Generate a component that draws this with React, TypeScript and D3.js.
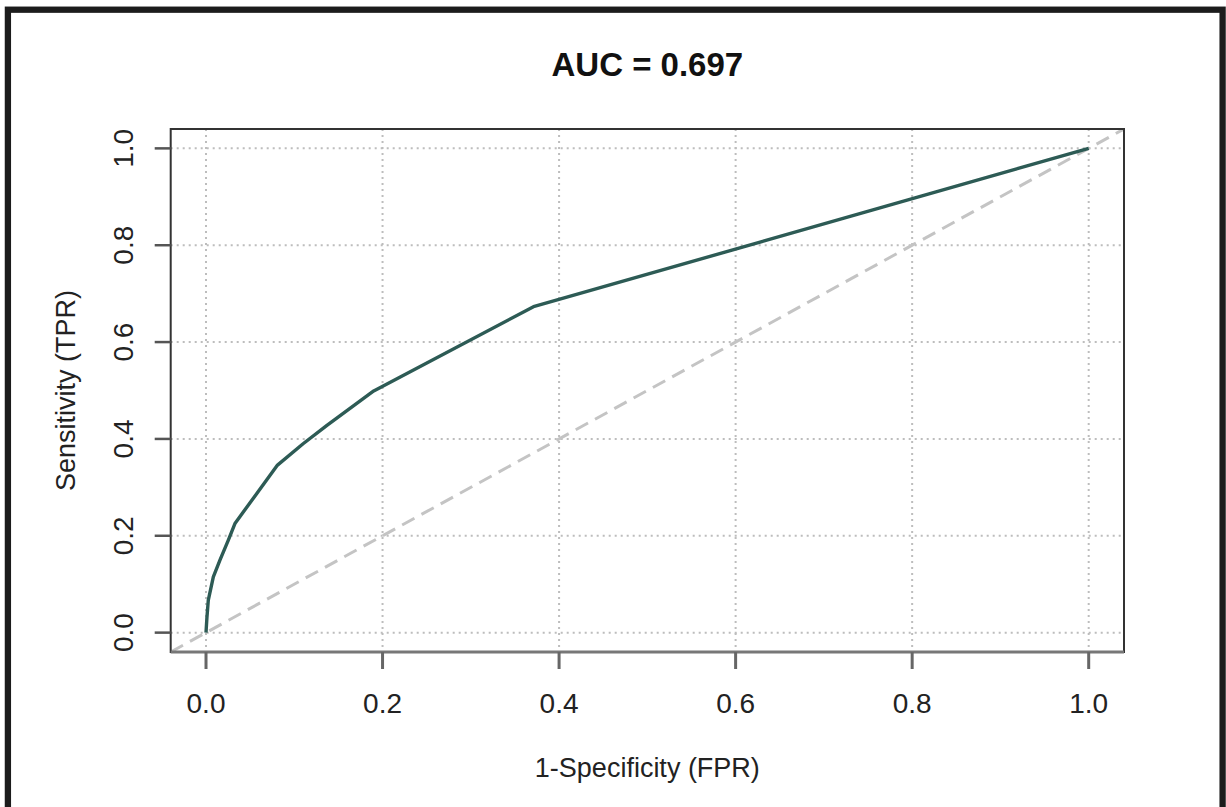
import React from "react";
import * as d3 from "d3";

const fpr = [0, 0.001, 0.0026, 0.0083, 0.0159, 0.0253, 0.033, 0.081, 0.11, 0.137, 0.19, 0.371, 1];
const tpr = [0, 0.03, 0.067, 0.115, 0.15, 0.191, 0.226, 0.346, 0.39, 0.428, 0.499, 0.673, 1];
const ticks = [0, 0.2, 0.4, 0.6, 0.8, 1.0];
const tickLabels = ["0.0", "0.2", "0.4", "0.6", "0.8", "1.0"];
const title = "AUC = 0.697";
const xLabel = "1-Specificity (FPR)";
const yLabel = "Sensitivity (TPR)";

const W = 1226;
const H = 807;
const FONT = "'Liberation Sans', Arial, Helvetica, sans-serif";

export default function App() {
  const x = d3.scaleLinear().domain([-0.04, 1.04]).range([170.7, 1124]);
  const y = d3.scaleLinear().domain([-0.04, 1.04]).range([652, 129]);
  const [x0, x1] = x.range();
  const [y0, y1] = y.range();
  const pts: [number, number][] = fpr.map((f, i) => [f, tpr[i]]);
  const line = d3
    .line<[number, number]>()
    .x((d) => x(d[0]))
    .y((d) => y(d[1]));
  const cx = (x0 + x1) / 2;
  const cy = (y0 + y1) / 2;

  return (
    <svg
      width={W}
      height={H}
      style={{ position: "absolute", left: 0, top: 0, background: "#fff" }}
      fontFamily={FONT}
    >
      <rect x={0} y={0} width={W} height={H} fill="#fff" />
      <rect x={7.9} y={9.7} width={1214.7} height={1000} fill="none" stroke="#1c1c1c" strokeWidth={6.3} />
      <defs>
        <clipPath id="plotclip">
          <rect x={x0} y={y1} width={x1 - x0} height={y0 - y1} />
        </clipPath>
      </defs>
      {/* grid */}
      <g stroke="#bdbdbd" strokeWidth={2} strokeDasharray="2,4">
        {ticks.map((t) => (
          <line key={"gx" + t} x1={x(t)} x2={x(t)} y1={y1} y2={y0} />
        ))}
        {ticks.map((t) => (
          <line key={"gy" + t} x1={x0} x2={x1} y1={y(t)} y2={y(t)} />
        ))}
      </g>
      {/* diagonal */}
      <g clipPath="url(#plotclip)">
        <line
          x1={x(-0.04)}
          y1={y(-0.04)}
          x2={x(1.04)}
          y2={y(1.04)}
          stroke="#c4c4c4"
          strokeWidth={3}
          strokeDasharray="14,8"
        />
        <path d={line(pts) || ""} fill="none" stroke="#2d5b55" strokeWidth={3.4} strokeLinejoin="round" />
      </g>
      {/* box */}
      <rect x={x0} y={y1} width={x1 - x0} height={y0 - y1} fill="none" stroke="#333" strokeWidth={2} />
      <line x1={x0} x2={x1} y1={y0} y2={y0} stroke="#777" strokeWidth={3} />
      {/* x ticks */}
      {ticks.map((t, i) => (
        <g key={"xt" + t}>
          <line x1={x(t)} x2={x(t)} y1={y0} y2={y0 + 17} stroke="#666" strokeWidth={3} />
          <text x={x(t)} y={713} textAnchor="middle" fontSize={28} fill="#222">
            {tickLabels[i]}
          </text>
        </g>
      ))}
      {/* y ticks */}
      {ticks.map((t, i) => (
        <g key={"yt" + t}>
          <line x1={x0 - 16} x2={x0} y1={y(t)} y2={y(t)} stroke="#555" strokeWidth={2.5} />
          <text
            transform={`translate(133,${y(t)}) rotate(-90)`}
            textAnchor="middle"
            fontSize={28}
            fill="#222"
          >
            {tickLabels[i]}
          </text>
        </g>
      ))}
      <text x={cx} y={75.7} textAnchor="middle" fontSize={33} fontWeight="bold" fill="#111">
        {title}
      </text>
      <text x={cx} y={777} textAnchor="middle" fontSize={27} fill="#222">
        {xLabel}
      </text>
      <text transform={`translate(75,${cy}) rotate(-90)`} textAnchor="middle" fontSize={27} fill="#222">
        {yLabel}
      </text>
    </svg>
  );
}
